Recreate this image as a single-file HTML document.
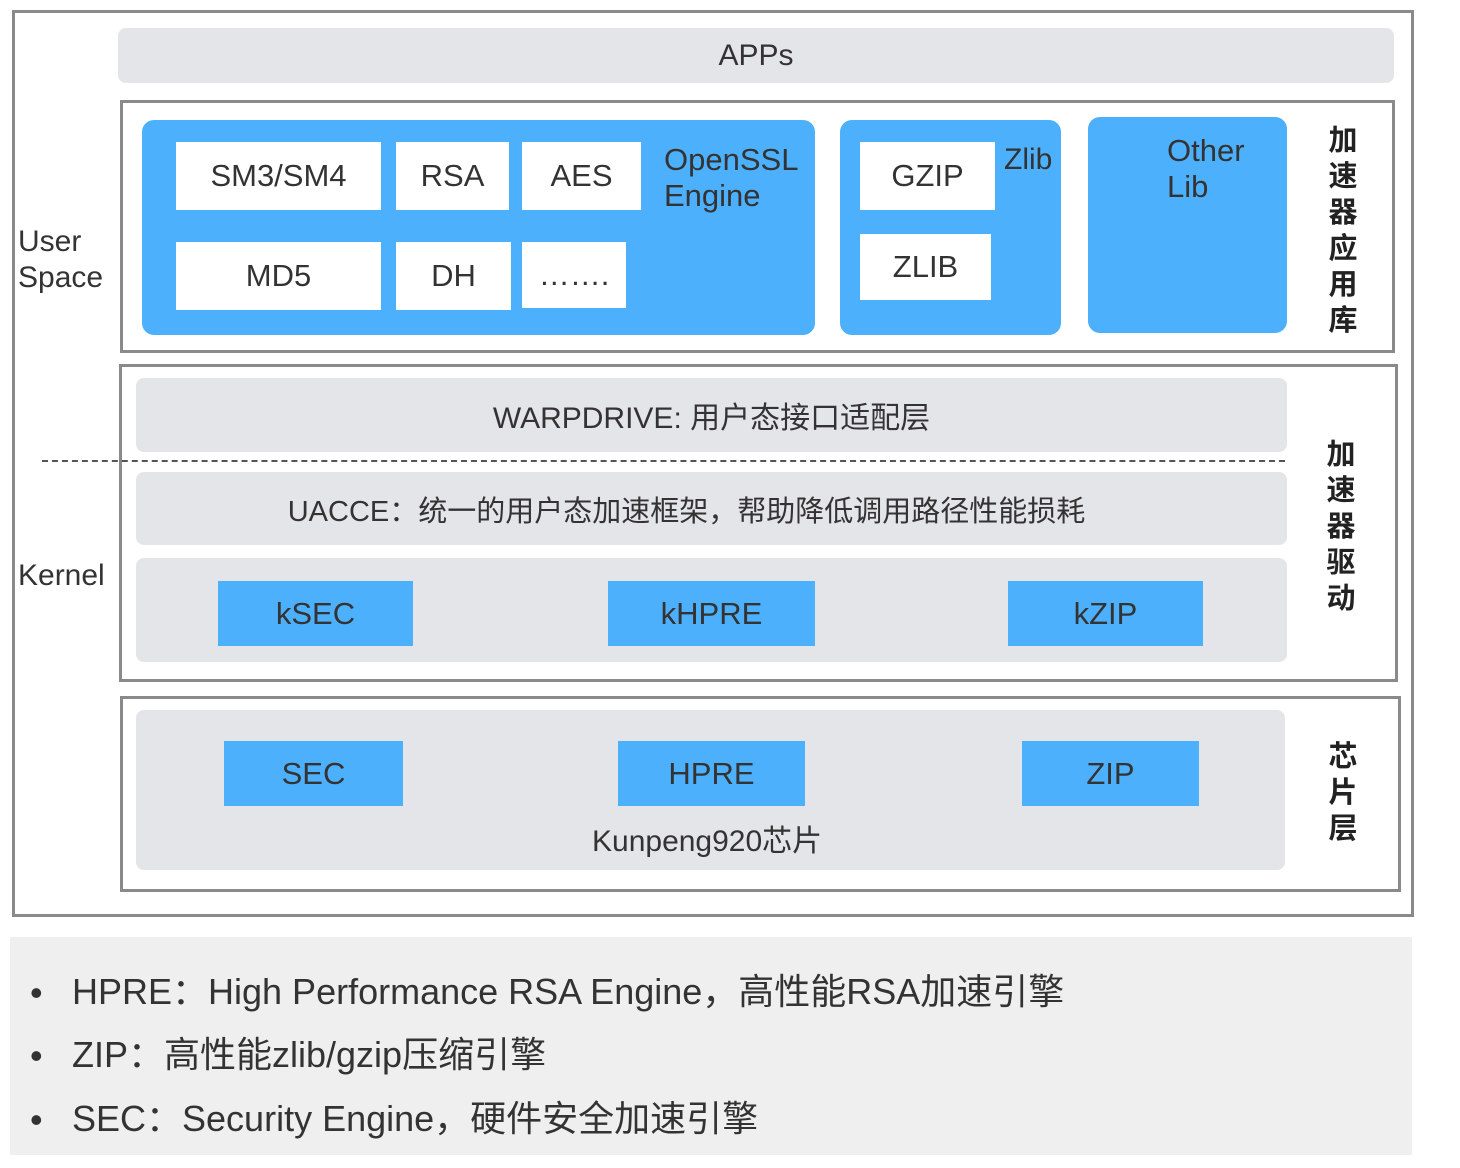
<!DOCTYPE html><html><head><meta charset="utf-8"><style>
body{margin:0;width:1460px;height:1168px;background:#fff;position:relative;overflow:hidden;font-family:"Liberation Sans","Noto Sans CJK SC",sans-serif;color:#333}
div{position:absolute;box-sizing:border-box}
.b{border:3px solid #8a8a8a}
.g{background:#e4e5e8;border-radius:8px}
.bl{background:#4db0fc;border-radius:12px}
.w{background:#fff;display:flex;align-items:center;justify-content:center;font-size:31px;color:#333}
.k{background:#4db0fc;display:flex;align-items:center;justify-content:center;font-size:31px;color:#333}
.t{font-size:30px;line-height:36px;color:#333}
.v{font-size:29px;font-weight:bold;line-height:36px;width:36px;text-align:center;color:#222}
.c{display:flex;align-items:center;justify-content:center;font-size:30px}
</style></head><body>
<div class="b" style="left:12px;top:10px;width:1402px;height:907px"></div>
<div class="g c" style="left:118px;top:28px;width:1276px;height:55px">APPs</div>
<div class="b" style="left:120px;top:100px;width:1275px;height:253px"></div>
<div class="bl" style="left:142px;top:120px;width:673px;height:215px"></div>
<div class="w" style="left:176px;top:142px;width:205px;height:68px">SM3/SM4</div>
<div class="w" style="left:396px;top:142px;width:113px;height:68px">RSA</div>
<div class="w" style="left:522px;top:142px;width:119px;height:68px">AES</div>
<div class="w" style="left:176px;top:242px;width:205px;height:68px">MD5</div>
<div class="w" style="left:396px;top:242px;width:115px;height:68px">DH</div>
<div class="w" style="left:522px;top:242px;width:104px;height:66px">…….</div>
<div class="t" style="left:664px;top:142px;font-size:31px">OpenSSL<br>Engine</div>
<div class="bl" style="left:840px;top:120px;width:221px;height:215px"></div>
<div class="w" style="left:860px;top:142px;width:135px;height:68px">GZIP</div>
<div class="w" style="left:860px;top:234px;width:131px;height:66px">ZLIB</div>
<div class="t" style="left:1004px;top:142px;font-size:30px">Zlib</div>
<div class="bl" style="left:1088px;top:117px;width:199px;height:216px"></div>
<div class="t" style="left:1167px;top:133px;font-size:31px">Other<br>Lib</div>
<div class="v" style="left:1325px;top:123px">加<br>速<br>器<br>应<br>用<br>库</div>
<div class="t" style="left:18px;top:224px">User<br>Space</div>
<div class="t" style="left:18px;top:558px">Kernel</div>
<div class="b" style="left:119px;top:364px;width:1279px;height:318px"></div>
<div class="g c" style="left:136px;top:378px;width:1151px;height:74px;padding-left:0">WARPDRIVE: 用户态接口适配层</div>
<div style="left:42px;top:460px;width:1243px;border-top:2px dashed #555"></div>
<div class="g c" style="left:136px;top:472px;width:1151px;height:73px;font-size:29px;padding-right:50px">UACCE：统一的用户态加速框架，帮助降低调用路径性能损耗</div>
<div class="g" style="left:136px;top:558px;width:1151px;height:104px"></div>
<div class="k" style="left:218px;top:581px;width:195px;height:65px">kSEC</div>
<div class="k" style="left:608px;top:581px;width:207px;height:65px">kHPRE</div>
<div class="k" style="left:1008px;top:581px;width:195px;height:65px">kZIP</div>
<div class="v" style="left:1323px;top:437px">加<br>速<br>器<br>驱<br>动</div>
<div class="b" style="left:120px;top:696px;width:1281px;height:196px"></div>
<div class="g" style="left:136px;top:710px;width:1149px;height:160px"></div>
<div class="k" style="left:224px;top:741px;width:179px;height:65px">SEC</div>
<div class="k" style="left:618px;top:741px;width:187px;height:65px">HPRE</div>
<div class="k" style="left:1022px;top:741px;width:177px;height:65px">ZIP</div>
<div class="t" style="left:592px;top:824px">Kunpeng920芯片</div>
<div class="v" style="left:1325px;top:739px">芯<br>片<br>层</div>
<div style="left:10px;top:937px;width:1402px;height:218px;background:#efefef"></div>
<div class="t" style="left:30px;top:972px;font-size:36px;line-height:42px">•</div>
<div class="t" style="left:72px;top:970px;font-size:36px;line-height:44px">HPRE：High Performance RSA Engine，高性能RSA加速引擎</div>
<div class="t" style="left:30px;top:1035px;font-size:36px;line-height:42px">•</div>
<div class="t" style="left:72px;top:1033px;font-size:36px;line-height:44px">ZIP：高性能zlib/gzip压缩引擎</div>
<div class="t" style="left:30px;top:1099px;font-size:36px;line-height:42px">•</div>
<div class="t" style="left:72px;top:1097px;font-size:36px;line-height:44px">SEC：Security Engine，硬件安全加速引擎</div>
</body></html>
